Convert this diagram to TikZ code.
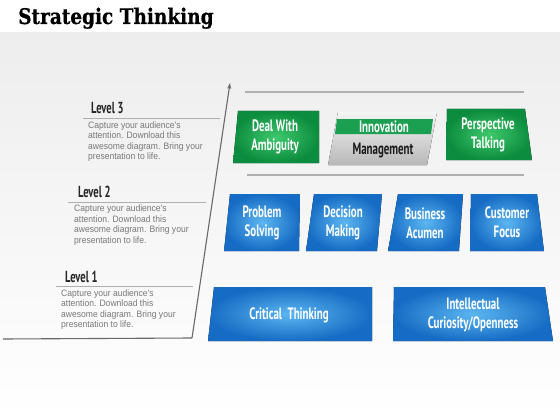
\documentclass[tikz,border=0pt]{standalone}
\usepackage{fontspec}
\setmainfont{Liberation Sans}
\newfontfamily\titlefont[FakeStretch=0.86,FakeBold=0.6]{DejaVu Serif}
\newfontfamily\boxfont[FakeStretch=0.66]{PT Sans}
\newfontfamily\descfont[FakeStretch=0.92]{Liberation Sans}
\usetikzlibrary{arrows.meta,positioning}
\definecolor{AxisGray}{RGB}{105,105,105}
\definecolor{RuleGray}{RGB}{175,175,175}
\definecolor{TextGray}{RGB}{120,120,120}
\definecolor{BlueLight}{RGB}{92,182,240}
\definecolor{BlueDark}{RGB}{22,108,196}
\definecolor{GreenLight}{RGB}{62,200,108}
\definecolor{GreenDark}{RGB}{12,140,62}
\definecolor{BandGreen}{RGB}{26,160,80}
\tikzset{
  bluebox/.style={inner color=BlueLight,outer color=BlueDark},
  greenbox/.style={inner color=GreenLight,outer color=GreenDark},
  graybox/.style={top color=black!4,bottom color=black!28},
  boxtext/.style={align=center,text=white,inner sep=0pt,
    font=\boxfont\bfseries\fontsize{16.5}{19}\selectfont},
  leveltext/.style={anchor=base west,inner sep=0pt,text=black!85,
    font=\boxfont\bfseries\fontsize{16}{18}\selectfont},
  desctext/.style={anchor=north west,align=left,inner sep=0pt,text=TextGray,
    font=\descfont\fontsize{9.3}{10.4}\selectfont},
  levelrule/.style={RuleGray,line width=0.8pt},
  rowrule/.style={RuleGray,line width=1.6pt}
}
\begin{document}
\begin{tikzpicture}[x=1pt,y=-1pt,>=Latex]
      \useasboundingbox (0,0) rectangle (560,420);
      \fill[white] (0,0) rectangle (560,420);
      \shade[top color=black!7,bottom color=white] (0,33) rectangle (560,420);
      \node[anchor=base west,inner sep=0pt,font=\titlefont\bfseries\fontsize{21.5}{24}\selectfont] (title) at (18,24) {Strategic Thinking};
      % axis
      \coordinate (corner) at (192,338);
      \coordinate (axisstart) at (3,339);
      \coordinate (axistop) at (230,83);
      \draw[AxisGray,line width=1.1pt] (axisstart) -- (corner);
      \draw[AxisGray,line width=1.1pt,-{Stealth[length=6pt,width=4pt]}] (corner) -- (axistop);
      % levels
      \node[leveltext] (lvl3) at (91,113.5) {Level 3};
      \node[leveltext] (lvl2) at (78,197.5) {Level 2};
      \node[leveltext] (lvl1) at (65,282) {Level 1};
      \draw[levelrule] (83,118) -- (220,118);
      \draw[levelrule] (68,202) -- (206,202);
      \draw[levelrule] (56,286) -- (193,286);
      \node[desctext] (desc3) at (88,121.5) {Capture your audience's\\attention. Download this\\awesome diagram. Bring your\\presentation to life.};
      \node[desctext] (desc2) at (74,205) {Capture your audience's\\attention. Download this\\awesome diagram. Bring your\\presentation to life.};
      \node[desctext] (desc1) at (61,289.5) {Capture your audience's\\attention. Download this\\awesome diagram. Bring your\\presentation to life.};
      % level 3 row
      \draw[rowrule] (245,92) -- (524,92);
      \draw[rowrule] (247,175) -- (524,175);
      \fill[greenbox] (238,111) -- (319,111) -- (319,163) -- (233,163) -- cycle;
      \fill[graybox] (338,112) -- (437,112) -- (427,165) -- (328,165) -- cycle;
      \fill[BandGreen] (337,119) -- (433,119) -- (431,134) -- (335,134) -- cycle;
      \fill[greenbox] (447,109) -- (525,109) -- (532,160) -- (446,160) -- cycle;
      \node[boxtext] (deal) at (275,137) {Deal With\\Ambiguity};
      \node[boxtext] (innov) at (384,126.5) {Innovation};
      \node[boxtext,text=black!90] (manage) at (383,150) {Management};
      \node[boxtext] (persp) at (488,135) {Perspective\\Talking};
      % level 2 row
      \fill[bluebox] (230,194) -- (300,194) -- (299,251) -- (224,251) -- cycle;
      \fill[bluebox] (314,194) -- (382,194) -- (377,251) -- (306,251) -- cycle;
      \fill[bluebox] (398,194) -- (463,194) -- (459,251) -- (388,251) -- cycle;
      \fill[bluebox] (471,194) -- (537,194) -- (544,251) -- (470,251) -- cycle;
      \node[boxtext] (prob) at (262,223) {Problem\\Solving};
      \node[boxtext] (dec) at (343,223) {Decision\\Making};
      \node[boxtext] (bus) at (425,223) {Business\\Acumen};
      \node[boxtext] (cust) at (507,222) {Customer\\Focus};
      % level 1 row
      \fill[bluebox] (214,287) -- (372,287) -- (372,341) -- (208,341) -- cycle;
      \fill[bluebox] (394,287) -- (545,287) -- (553,341) -- (393,341) -- cycle;
      \node[boxtext] (crit) at (289,315) {Critical\ \ Thinking};
      \node[boxtext] (intel) at (473,315) {Intellectual\\Curiosity/Openness};
    \end{tikzpicture}
\end{document}
